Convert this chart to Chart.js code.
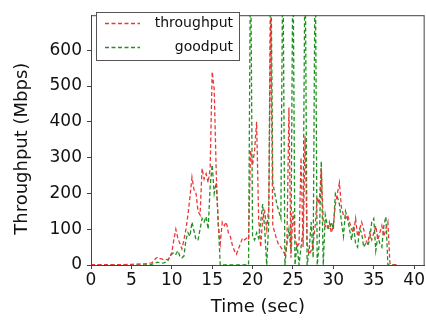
<!DOCTYPE html>
<html>
<head>
<meta charset="utf-8">
<script src="https://cdn.jsdelivr.net/npm/chart.js"></script>
<style>
  html, body { margin: 0; padding: 0; background: #fff; }
  #wrap { width: 426px; height: 320px; }
</style>
</head>
<body>
<div id="wrap"><canvas id="myChart"></canvas></div>
<script>
// time samples (sec)
const times = [0, 1, 2, 3, 4, 5, 6, 6.5,
  7.00, 7.25, 7.50, 7.75, 8.00, 8.25, 8.50, 8.75, 9.00, 9.25, 9.50, 9.75,
  10.00, 10.25, 10.50, 10.75, 11.00, 11.25, 11.50, 11.75, 12.00, 12.25, 12.50, 12.75,
  13.00, 13.25, 13.50, 13.75, 14.00, 14.25, 14.50, 14.75, 15.00, 15.25, 15.50, 15.75,
  16.00, 16.25, 16.50, 16.75, 17.00, 17.25, 17.50, 17.75, 18.00, 18.25, 18.50, 18.75,
  19.00, 19.25, 19.50, 19.75, 20.00, 20.25, 20.50, 20.75, 21.00, 21.25, 21.50, 21.75,
  22.00, 22.25, 22.50, 22.75, 23.00, 23.25, 23.50, 23.75, 24.00, 24.25, 24.50, 24.75,
  25.00, 25.25, 25.50, 25.75, 26.00, 26.25, 26.50, 26.75, 27.00, 27.25, 27.50, 27.75,
  28.00, 28.25, 28.50, 28.75, 29.00, 29.25, 29.50, 29.75, 30.00, 30.25, 30.50, 30.75,
  31.00, 31.25, 31.50, 31.75, 32.00, 32.25, 32.50, 32.75, 33.00, 33.25, 33.50, 33.75,
  34.00, 34.25, 34.50, 34.75, 35.00, 35.25, 35.50, 35.75, 36.00, 36.25, 36.50, 36.75,
  37.00, 37.25, 37.50, 38.00];

const throughput = [1, 1, 1, 1, 1, 2, 3, 3,
  4, 5, 6, 10, 18, 22, 18, 17, 15, 16, 15, 20,
  35, 70, 100, 75, 60, 45, 70, 100, 140, 190, 245, 210,
  200, 150, 140, 270, 240, 255, 230, 270, 540, 490, 260, 110,
  60, 120, 110, 120, 90, 80, 55, 40, 30, 45, 60, 75,
  70, 75, 70, 320, 280, 320, 400, 130, 50, 130, 150, 100,
  160, 690, 110, 90, 70, 55, 50, 40, 30, 60, 440, 20,
  150, 80, 50, 60, 300, 50, 360, 60, 30, 40, 60, 110,
  190, 170, 270, 120, 110, 100, 120, 90, 110, 170, 200, 230,
  160, 140, 130, 140, 120, 100, 90, 130, 80, 100, 120, 100,
  70, 60, 90, 70, 90, 110, 70, 90, 110, 80, 100, 120,
  5, 0, 0, 0];

const goodput = [0, 0, 0, 0, 0, 0, 0, 0,
  0, 0, 2, 4, 6, 8, 6, 5, 6, 8, 10, 25,
  30, 35, 30, 40, 25, 20, 25, 70, 90, 80, 120, 95,
  70, 70, 100, 130, 120, 135, 100, 220, 280, 200, 230, 120,
  0, 0, 0, 0, 0, 0, 0, 0, 0, 0, 0, 0,
  0, 0, 0, 900, 80, 70, 90, 75, 120, 170, 100, 0,
  120, 900, 230, 200, 170, 150, 130, 900, 0, 60, 100, 40,
  900, 0, 60, 0, 50, 100, 900, 0, 40, 120, 20, 900,
  0, 60, 290, 0, 140, 110, 100, 120, 100, 200, 190, 170,
  120, 80, 150, 130, 100, 70, 110, 60, 50, 100, 90, 50,
  60, 55, 70, 120, 130, 40, 80, 60, 50, 110, 135, 0,
  0, 0, 0, 0];

const xTicks = [0, 5, 10, 15, 20, 25, 30, 35, 40];
const yTicks = [0, 100, 200, 300, 400, 500, 600];

const FONT = "'DejaVu Sans', sans-serif";

const pts = arr => times.map((t, i) => ({ x: t, y: arr[i] }));

// frame + legend box drawn by hand (right-aligned labels like the original)
const framePlugin = {
  id: 'frame',
  afterDraw(chart) {
    const { ctx, chartArea: a } = chart;
    ctx.save();
    ctx.strokeStyle = '#444';
    ctx.lineWidth = 1;
    ctx.strokeRect(a.left + 0.5, a.top + 0.5, a.right - a.left - 1, a.bottom - a.top);

    // legend
    const bx = 96, by = 12, bw = 143, bh = 48;
    ctx.fillStyle = '#fff';
    ctx.fillRect(bx, by, bw, bh);
    ctx.strokeStyle = '#555';
    ctx.strokeRect(bx + 0.5, by + 0.5, bw, bh);
    const rows = [23, 47];
    chart.data.datasets.forEach((ds, i) => {
      ctx.strokeStyle = ds.borderColor;
      ctx.lineWidth = 1.4;
      ctx.setLineDash([4, 2.5]);
      ctx.beginPath();
      ctx.moveTo(105, rows[i] + 0.5);
      ctx.lineTo(140, rows[i] + 0.5);
      ctx.stroke();
      ctx.setLineDash([]);
      ctx.fillStyle = '#111';
      ctx.font = '14px ' + FONT;
      ctx.textAlign = 'right';
      ctx.textBaseline = 'middle';
      ctx.fillText(ds.label, 233, rows[i]);
    });
    ctx.restore();
  }
};

new Chart(document.getElementById('myChart'), {
  type: 'line',
  data: {
    datasets: [
      { label: 'throughput', data: pts(throughput), borderColor: 'rgb(235,55,55)',
        borderWidth: 1.3, borderDash: [4, 2.5], pointRadius: 0, tension: 0 },
      { label: 'goodput', data: pts(goodput), borderColor: 'rgb(30,145,30)',
        borderWidth: 1.3, borderDash: [4, 2.5], pointRadius: 0, tension: 0 }
    ]
  },
  options: {
    animation: false,
    responsive: true,
    maintainAspectRatio: false,
    layout: { padding: { top: 8, right: 1, left: 0, bottom: 0 } },
    plugins: { legend: { display: false }, tooltip: { enabled: false } },
    scales: {
      x: {
        type: 'linear', min: 0, max: 41.3,
        afterBuildTicks: ax => { ax.ticks = xTicks.map(v => ({ value: v })); },
        afterFit: ax => { ax.height = 55; },
        grid: { drawOnChartArea: false, drawTicks: true, tickLength: 4, color: '#444' },
        border: { color: '#444' },
        ticks: { color: '#111', font: { family: FONT, size: 17 }, padding: 1, maxRotation: 0 },
        title: { display: true, text: 'Time (sec)', color: '#111',
                 font: { family: FONT, size: 18 }, padding: { top: 0, bottom: 2 } }
      },
      y: {
        min: 0, max: 698,
        afterBuildTicks: ax => { ax.ticks = yTicks.map(v => ({ value: v })); },
        afterFit: ax => { ax.width = 91; },
        grid: { drawOnChartArea: false, drawTicks: true, tickLength: 4, color: '#444' },
        border: { color: '#444' },
        ticks: { color: '#111', font: { family: FONT, size: 17 }, padding: 5 },
        title: { display: true, text: 'Throughput (Mbps)   ', color: '#111',
                 font: { family: FONT, size: 18 }, padding: { top: 12, bottom: 2 } }
      }
    }
  },
  plugins: [framePlugin]
});
</script>
</body>
</html>
